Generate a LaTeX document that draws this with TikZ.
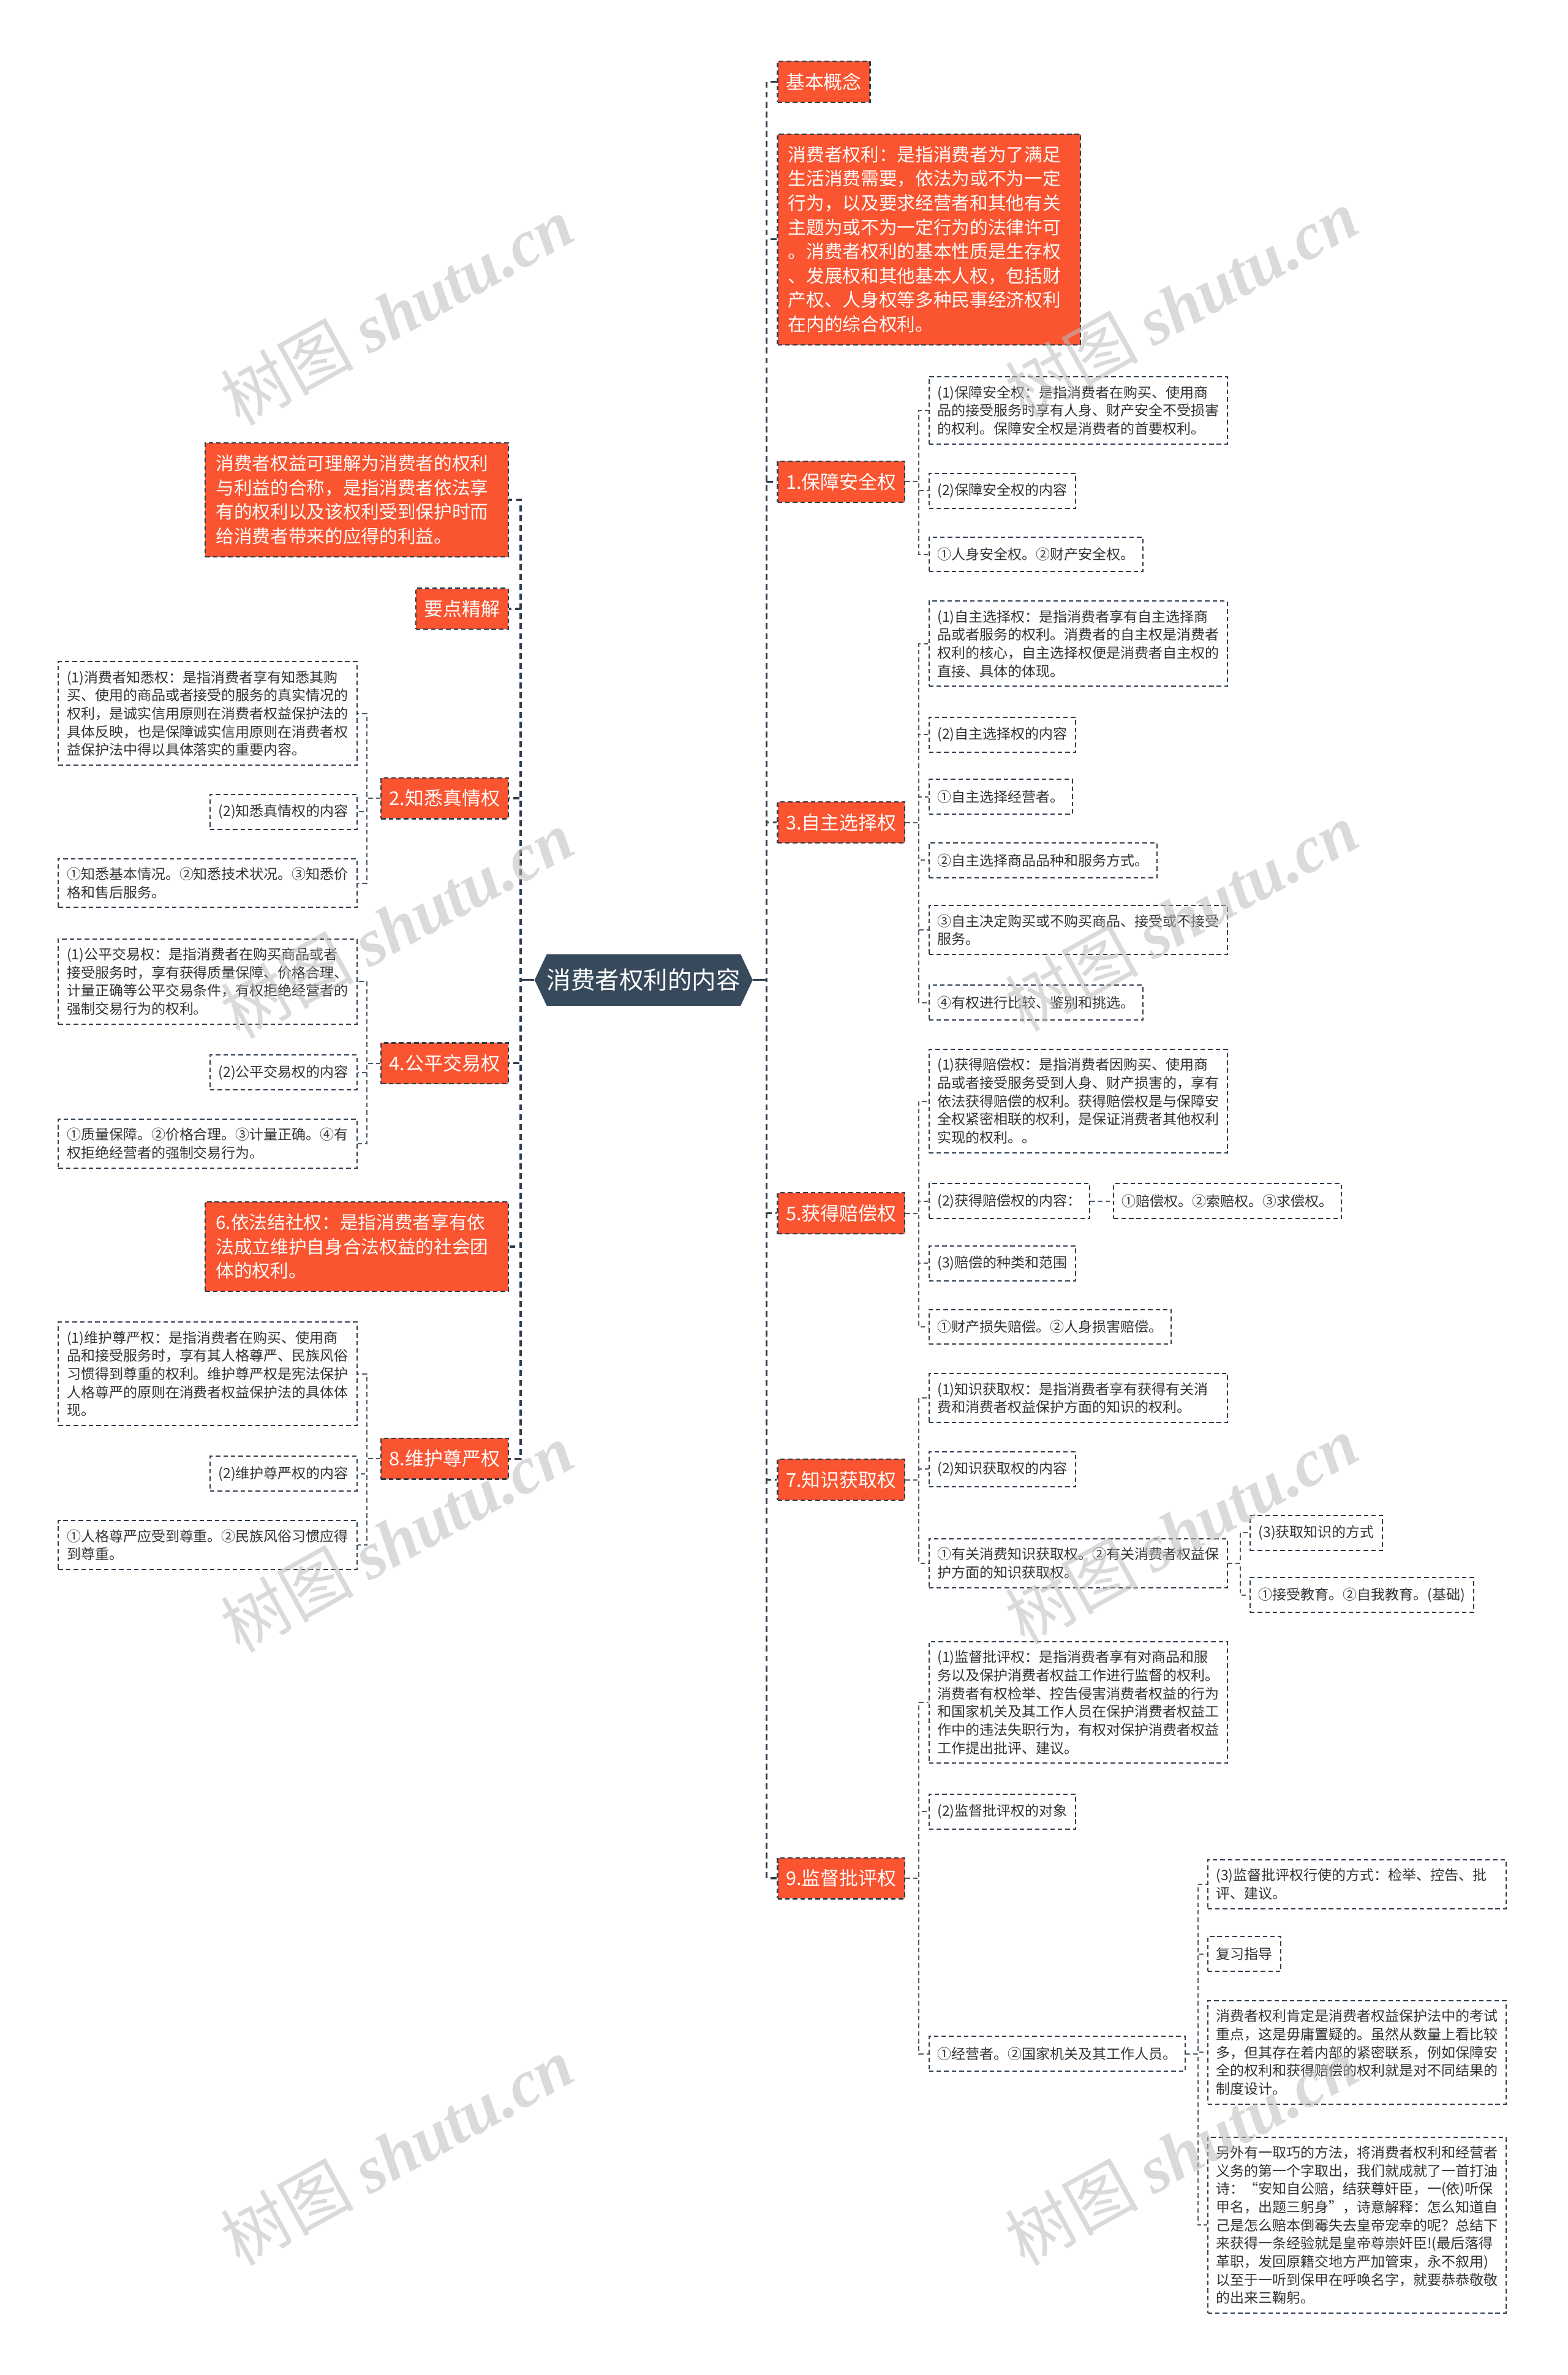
\documentclass[tikz,border=0pt]{standalone}
\usepackage{fontspec}
\setmainfont{Noto Sans CJK SC}
\newfontfamily\wmserif{Liberation Serif}
\definecolor{orng}{HTML}{FA5431}
\definecolor{dark}{HTML}{2F3E4E}
\definecolor{hexfill}{HTML}{374A5B}
\definecolor{txt}{HTML}{333333}
\definecolor{wmc}{HTML}{BDBDBD}
\tikzset{
  base/.style={draw=dark, dash pattern=on 3pt off 2pt, line width=0.9pt, inner xsep=5.5pt, inner ysep=5.8pt, align=left},
  lab/.style={base, fill=orng, text=white, font=\fontsize{12.5}{15}\selectfont, minimum height=27pt, inner ysep=4pt},
  lng/.style={base, fill=orng, text=white, font=\fontsize{12}{16}\selectfont, text width=186pt, inner xsep=7pt, inner ysep=8pt},
  sub/.style={base, line width=0.8pt, text=txt, font=\fontsize{9.3}{12}\selectfont, minimum height=23pt},
  subw/.style={sub, text width=186pt},
  main/.style={draw=dark, line width=1.3pt, dash pattern=on 4pt off 2.5pt},
  br/.style={draw=dark!85, line width=0.8pt, dash pattern=on 3pt off 2pt},
  wm/.style={text=wmc, opacity=0.55, rotate=29, font=\fontsize{44}{44}\selectfont},
}
\begin{document}
\begin{tikzpicture}[x=1pt,y=-1pt]
\fill[white] (0,0) rectangle (1035,1568);
\useasboundingbox (0,0) rectangle (1035,1568);

% center
\fill[hexfill] (353,647) -- (361,630) -- (489,630) -- (497,647) -- (489,664) -- (361,664) -- cycle;
\node[text=white, font=\fontsize{16}{19}\selectfont, minimum width=144pt, minimum height=34pt, inner sep=0pt] (c) at (425,647) {消费者权利的内容};

% right main
\node[lab, anchor=west] (r0) at (513,54) {基本概念};
\node[lng, anchor=west] (r0b) at (513,158) {消费者权利：是指消费者为了满足\\生活消费需要，依法为或不为一定\\行为，以及要求经营者和其他有关\\主题为或不为一定行为的法律许可\\。消费者权利的基本性质是生存权\\、发展权和其他基本人权，包括财\\产权、人身权等多种民事经济权利\\在内的综合权利。};
\node[lab, anchor=west] (r1) at (513,318) {1.保障安全权};
\node[lab, anchor=west] (r3) at (513,543) {3.自主选择权};
\node[lab, anchor=west] (r5) at (513,801) {5.获得赔偿权};
\node[lab, anchor=west] (r7) at (513,977) {7.知识获取权};
\node[lab, anchor=west] (r9) at (513,1240) {9.监督批评权};

% left main
\node[lng, anchor=east] (l0) at (336,330) {消费者权益可理解为消费者的权利\\与利益的合称，是指消费者依法享\\有的权利以及该权利受到保护时而\\给消费者带来的应得的利益。};
\node[lab, anchor=east] (l0b) at (336,402) {要点精解};
\node[lab, anchor=east] (l2) at (336,527) {2.知悉真情权};
\node[lab, anchor=east] (l4) at (336,702) {4.公平交易权};
\node[lng, anchor=east] (l6) at (336,823) {6.依法结社权：是指消费者享有依\\法成立维护自身合法权益的社会团\\体的权利。};
\node[lab, anchor=east] (l8) at (336,963) {8.维护尊严权};

% right subs
\node[subw, anchor=west] (r1a) at (613,271) {(1)保障安全权：是指消费者在购买、使用商\\品的接受服务时享有人身、财产安全不受损害\\的权利。保障安全权是消费者的首要权利。};
\node[sub, anchor=west] (r1b) at (613,324) {(2)保障安全权的内容};
\node[sub, anchor=west] (r1c) at (613,366) {①人身安全权。②财产安全权。};

\node[subw, anchor=west] (r3a) at (613,425) {(1)自主选择权：是指消费者享有自主选择商\\品或者服务的权利。消费者的自主权是消费者\\权利的核心，自主选择权便是消费者自主权的\\直接、具体的体现。};
\node[sub, anchor=west] (r3b) at (613,485) {(2)自主选择权的内容};
\node[sub, anchor=west] (r3c) at (613,526) {①自主选择经营者。};
\node[sub, anchor=west] (r3d) at (613,568) {②自主选择商品品种和服务方式。};
\node[subw, anchor=west] (r3e) at (613,614) {③自主决定购买或不购买商品、接受或不接受\\服务。};
\node[sub, anchor=west] (r3f) at (613,662) {④有权进行比较、鉴别和挑选。};

\node[subw, anchor=west] (r5a) at (613,727) {(1)获得赔偿权：是指消费者因购买、使用商\\品或者接受服务受到人身、财产损害的，享有\\依法获得赔偿的权利。获得赔偿权是与保障安\\全权紧密相联的权利，是保证消费者其他权利\\实现的权利。。};
\node[sub, anchor=west] (r5b) at (613,793) {(2)获得赔偿权的内容：};
\node[sub, anchor=west] (r5b1) at (735,793) {①赔偿权。②索赔权。③求偿权。};
\node[sub, anchor=west] (r5c) at (613,834) {(3)赔偿的种类和范围};
\node[sub, anchor=west] (r5d) at (613,876) {①财产损失赔偿。②人身损害赔偿。};

\node[subw, anchor=west] (r7a) at (613,923) {(1)知识获取权：是指消费者享有获得有关消\\费和消费者权益保护方面的知识的权利。};
\node[sub, anchor=west] (r7b) at (613,970) {(2)知识获取权的内容};
\node[subw, anchor=west] (r7c) at (613,1032) {①有关消费知识获取权。②有关消费者权益保\\护方面的知识获取权。};
\node[sub, anchor=west] (r7c1) at (825,1012) {(3)获取知识的方式};
\node[sub, anchor=west] (r7c2) at (825,1053) {①接受教育。②自我教育。(基础)};

\node[subw, anchor=west] (r9a) at (613,1124) {(1)监督批评权：是指消费者享有对商品和服\\务以及保护消费者权益工作进行监督的权利。\\消费者有权检举、控告侵害消费者权益的行为\\和国家机关及其工作人员在保护消费者权益工\\作中的违法失职行为，有权对保护消费者权益\\工作提出批评、建议。};
\node[sub, anchor=west] (r9b) at (613,1196) {(2)监督批评权的对象};
\node[sub, anchor=west] (r9c) at (613,1356) {①经营者。②国家机关及其工作人员。};
\node[subw, anchor=west] (r9c1) at (797,1244) {(3)监督批评权行使的方式：检举、控告、批\\评、建议。};
\node[sub, anchor=west] (r9c2) at (797,1290) {复习指导};
\node[subw, anchor=west] (r9c3) at (797,1355) {消费者权利肯定是消费者权益保护法中的考试\\重点，这是毋庸置疑的。虽然从数量上看比较\\多，但其存在着内部的紧密联系，例如保障安\\全的权利和获得赔偿的权利就是对不同结果的\\制度设计。};
\node[subw, anchor=west] (r9c4) at (797,1469) {另外有一取巧的方法，将消费者权利和经营者\\义务的第一个字取出，我们就成就了一首打油\\诗：“安知自公赔，结获尊奸臣，一(依)听保\\甲名，出题三躬身”，诗意解释：怎么知道自\\己是怎么赔本倒霉失去皇帝宠幸的呢？总结下\\来获得一条经验就是皇帝尊崇奸臣!(最后落得\\革职，发回原籍交地方严加管束，永不叙用)\\以至于一听到保甲在呼唤名字，就要恭恭敬敬\\的出来三鞠躬。};

% left subs
\node[subw, anchor=east] (l2a) at (236,471) {(1)消费者知悉权：是指消费者享有知悉其购\\买、使用的商品或者接受的服务的真实情况的\\权利，是诚实信用原则在消费者权益保护法的\\具体反映，也是保障诚实信用原则在消费者权\\益保护法中得以具体落实的重要内容。};
\node[sub, anchor=east] (l2b) at (236,536) {(2)知悉真情权的内容};
\node[subw, anchor=east] (l2c) at (236,583) {①知悉基本情况。②知悉技术状况。③知悉价\\格和售后服务。};

\node[subw, anchor=east] (l4a) at (236,648) {(1)公平交易权：是指消费者在购买商品或者\\接受服务时，享有获得质量保障、价格合理、\\计量正确等公平交易条件，有权拒绝经营者的\\强制交易行为的权利。};
\node[sub, anchor=east] (l4b) at (236,708) {(2)公平交易权的内容};
\node[subw, anchor=east] (l4c) at (236,755) {①质量保障。②价格合理。③计量正确。④有\\权拒绝经营者的强制交易行为。};

\node[subw, anchor=east] (l8a) at (236,907) {(1)维护尊严权：是指消费者在购买、使用商\\品和接受服务时，享有其人格尊严、民族风俗\\习惯得到尊重的权利。维护尊严权是宪法保护\\人格尊严的原则在消费者权益保护法的具体体\\现。};
\node[sub, anchor=east] (l8b) at (236,973) {(2)维护尊严权的内容};
\node[subw, anchor=east] (l8c) at (236,1020) {①人格尊严应受到尊重。②民族风俗习惯应得\\到尊重。};

% main connectors
\foreach \n in {r0,r0b,r1,r3,r5,r7,r9} \draw[main] (c.east) -- ++(9,0) |- (\n.west);
\foreach \n in {l0,l0b,l2,l4,l6,l8} \draw[main] (c.west) -- ++(-9,0) |- (\n.east);
\draw[dark, line width=1.3pt] (c.east) -- ++(9,0);
\draw[dark, line width=1.3pt] (c.west) -- ++(-9,0);

% sub connectors
\foreach \n in {r1a,r1b,r1c} \draw[br] (r1.east) -- ++(9,0) |- (\n.west);
\foreach \n in {r3a,r3b,r3c,r3d,r3e,r3f} \draw[br] (r3.east) -- ++(9,0) |- (\n.west);
\foreach \n in {r5a,r5b,r5c,r5d} \draw[br] (r5.east) -- ++(9,0) |- (\n.west);
\draw[br] (r5b.east) -- (r5b1.west);
\foreach \n in {r7a,r7b,r7c} \draw[br] (r7.east) -- ++(9,0) |- (\n.west);
\foreach \n in {r7c1,r7c2} \draw[br] (r7c.east) -- ++(8,0) |- (\n.west);
\foreach \n in {r9a,r9b,r9c} \draw[br] (r9.east) -- ++(9,0) |- (\n.west);
\foreach \n in {r9c1,r9c2,r9c3,r9c4} \draw[br] (r9c.east) -- ++(8,0) |- (\n.west);
\foreach \n in {l2a,l2b,l2c} \draw[br] (l2.west) -- ++(-9,0) |- (\n.east);
\foreach \n in {l4a,l4b,l4c} \draw[br] (l4.west) -- ++(-9,0) |- (\n.east);
\foreach \n in {l8a,l8b,l8c} \draw[br] (l8.west) -- ++(-9,0) |- (\n.east);

% watermarks
\foreach \p in {(262,205),(780,200),(262,610),(780,605),(262,1015),(780,1010),(262,1420),(780,1420)}
  \node[wm] at \p {树图 {\wmserif\itshape\bfseries shutu.cn}};
\end{tikzpicture}
\end{document}
